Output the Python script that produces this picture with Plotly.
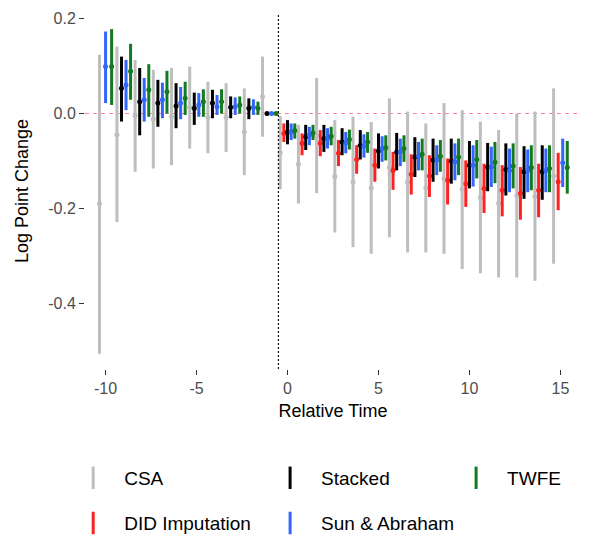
import plotly.graph_objects as go

# ---------------- data ----------------
rel_time = list(range(-10, 16))

estimators = ["CSA", "DID Imputation", "Stacked", "Sun & Abraham", "TWFE"]
colors = ["#bebebe", "#ff2020", "#000000", "#3366ff", "#127a1f"]

# CSA
csa_est = [-0.190, -0.045, -0.005, -0.012, -0.007, 0.013, -0.008, -0.008, -0.039, 0.036,
           -0.083, -0.107, -0.047, -0.133, -0.145, -0.157, -0.114, -0.145, -0.157, -0.137,
           -0.160, -0.177, -0.190, -0.173, -0.175, -0.132]
csa_lo = [-0.507, -0.229, -0.123, -0.116, -0.109, -0.074, -0.084, -0.081, -0.130, -0.049,
          -0.160, -0.190, -0.168, -0.251, -0.282, -0.296, -0.261, -0.293, -0.293, -0.296,
          -0.328, -0.337, -0.346, -0.346, -0.353, -0.317]
csa_hi = [0.124, 0.141, 0.113, 0.092, 0.096, 0.099, 0.067, 0.064, 0.053, 0.120,
          -0.005, -0.024, 0.075, -0.014, -0.007, -0.018, 0.032, 0.004, -0.021, 0.022,
          0.007, -0.017, -0.035, 0.000, 0.004, 0.053]

# DID Imputation (post-period only)
did_est = [None] * 10 + [-0.042, -0.063, -0.063, -0.084, -0.097, -0.109, -0.120, -0.128,
                         -0.132, -0.141, -0.148, -0.158, -0.162, -0.168, -0.162, -0.144]
did_lo = [None] * 10 + [-0.060, -0.088, -0.090, -0.111, -0.127, -0.144, -0.161, -0.171,
                        -0.176, -0.192, -0.197, -0.210, -0.217, -0.224, -0.219, -0.204]
did_hi = [None] * 10 + [-0.021, -0.042, -0.035, -0.056, -0.067, -0.074, -0.081, -0.086,
                        -0.088, -0.095, -0.099, -0.106, -0.109, -0.113, -0.106, -0.083]

# Stacked
stk_est = [None, 0.053, 0.025, 0.022, 0.016, 0.011, 0.022, 0.013, 0.011, 0.0,
           -0.039, -0.049, -0.053, -0.060, -0.067, -0.079, -0.081, -0.092, -0.098, -0.100,
           -0.109, -0.113, -0.118, -0.123, -0.123, None]
stk_lo = [None, -0.017, -0.046, -0.028, -0.031, -0.024, -0.010, -0.010, -0.012, 0.0,
          -0.065, -0.077, -0.081, -0.088, -0.097, -0.116, -0.120, -0.134, -0.144, -0.148,
          -0.158, -0.164, -0.173, -0.180, -0.182, None]
stk_hi = [None, 0.120, 0.096, 0.071, 0.064, 0.044, 0.050, 0.036, 0.032, 0.0,
          -0.014, -0.024, -0.024, -0.031, -0.035, -0.042, -0.041, -0.050, -0.053, -0.053,
          -0.058, -0.062, -0.063, -0.069, -0.067, None]

# Sun & Abraham
sa_est = [0.099, 0.060, 0.029, 0.029, 0.022, 0.018, 0.014, 0.014, 0.013, 0.0,
          -0.039, -0.046, -0.053, -0.062, -0.069, -0.074, -0.081, -0.090, -0.098, -0.102,
          -0.109, -0.113, -0.120, -0.120, -0.120, -0.104]
sa_lo = [0.022, 0.007, -0.017, -0.010, -0.012, -0.007, -0.003, -0.003, -0.003, 0.0,
         -0.056, -0.067, -0.074, -0.084, -0.093, -0.102, -0.111, -0.120, -0.130, -0.141,
         -0.154, -0.155, -0.166, -0.166, -0.166, -0.155]
sa_hi = [0.173, 0.113, 0.075, 0.065, 0.056, 0.043, 0.039, 0.034, 0.030, 0.0,
         -0.021, -0.028, -0.031, -0.039, -0.044, -0.048, -0.053, -0.060, -0.067, -0.063,
         -0.067, -0.070, -0.074, -0.076, -0.074, -0.053]

# TWFE
twfe_est = [0.099, 0.089, 0.050, 0.046, 0.032, 0.025, 0.025, 0.018, 0.011, 0.0,
            -0.036, -0.041, -0.048, -0.055, -0.060, -0.072, -0.074, -0.086, -0.090, -0.092,
            -0.097, -0.103, -0.111, -0.114, -0.116, -0.114]
twfe_lo = [0.018, 0.029, -0.007, 0.000, -0.003, -0.007, 0.000, 0.000, -0.003, 0.0,
           -0.053, -0.056, -0.067, -0.076, -0.083, -0.099, -0.102, -0.120, -0.123, -0.130,
           -0.137, -0.147, -0.158, -0.162, -0.166, -0.169]
twfe_hi = [0.178, 0.147, 0.104, 0.090, 0.067, 0.051, 0.051, 0.036, 0.025, 0.0,
           -0.021, -0.024, -0.028, -0.034, -0.039, -0.046, -0.046, -0.053, -0.056, -0.053,
           -0.056, -0.060, -0.063, -0.067, -0.067, -0.058]

x_ticks = [-10, -5, 0, 5, 10, 15]
x_labels = ["-10", "-5", "0", "5", "10", "15"]
y_ticks = [0.2, 0.0, -0.2, -0.4]
y_labels = ["0.2", "0.0", "-0.2", "-0.4"]

series = [
    (csa_est, csa_lo, csa_hi),
    (did_est, did_lo, did_hi),
    (stk_est, stk_lo, stk_hi),
    (sa_est, sa_lo, sa_hi),
    (twfe_est, twfe_lo, twfe_hi),
]

# ---------------- dodge (like ggplot position_dodge(width = 1)) ----------------
dodge_width = 1.0
offsets = [[None] * len(rel_time) for _ in estimators]
for j, t in enumerate(rel_time):
    present = [k for k in range(len(estimators)) if series[k][0][j] is not None]
    n = len(present)
    for i, k in enumerate(present):
        offsets[k][j] = dodge_width * ((i + 0.5) / n - 0.5)

fig = go.Figure()

for k, name in enumerate(estimators):
    est, lo, hi = series[k]
    xs, ys, up, dn = [], [], [], []
    for j, t in enumerate(rel_time):
        if est[j] is None:
            continue
        xs.append(t + offsets[k][j])
        ys.append(est[j])
        up.append(hi[j] - est[j])
        dn.append(est[j] - lo[j])
    fig.add_trace(go.Scatter(
        x=xs, y=ys, mode="markers", name=name, showlegend=False,
        marker=dict(size=5, color=colors[k]),
        error_y=dict(type="data", symmetric=False, array=up, arrayminus=dn,
                     thickness=3, width=0, color=colors[k]),
        hoverinfo="skip",
    ))

# legend entries, laid out in 3 columns x 2 rows like the reference
legend_pos = {
    "CSA": ("legend", -0.046, -0.306),
    "Stacked": ("legend2", 0.351, -0.306),
    "TWFE": ("legend3", 0.726, -0.306),
    "DID Imputation": ("legend4", -0.046, -0.433),
    "Sun & Abraham": ("legend5", 0.351, -0.433),
}
for k, name in enumerate(estimators):
    lg = legend_pos[name][0]
    fig.add_trace(go.Scatter(
        x=[None], y=[None], mode="markers", name=name, legend=lg,
        marker=dict(symbol="line-ns", size=16, color=colors[k],
                    line=dict(width=3, color=colors[k])),
    ))

legend_layout = {}
for name, (lg, lx, ly) in legend_pos.items():
    legend_layout[lg] = dict(
        x=lx, y=ly, xanchor="left", yanchor="middle", orientation="v",
        itemwidth=52, bgcolor="rgba(0,0,0,0)",
        font=dict(size=19, color="black", family="Liberation Sans, Arial, sans-serif"),
    )

fig.update_layout(
    width=592, height=543,
    margin=dict(l=85, r=11, t=13, b=174, autoexpand=False),
    paper_bgcolor="white", plot_bgcolor="white",
    font=dict(family="Liberation Sans, Arial, sans-serif", size=16, color="black"),
    xaxis=dict(
        range=[-11.13, 16.13], tickvals=x_ticks, ticktext=x_labels,
        ticks="outside", ticklen=5, tickwidth=1, tickcolor="#333333",
        showgrid=False, zeroline=False, showline=False,
        tickfont=dict(size=16, color="#4d4d4d"),
        title=dict(text="Relative Time", font=dict(size=18, color="black"), standoff=8),
    ),
    yaxis=dict(
        range=[-0.539, 0.212], tickvals=y_ticks, ticktext=y_labels,
        ticks="outside", ticklen=5, tickwidth=1, tickcolor="#333333",
        showgrid=False, zeroline=False, showline=False,
        tickfont=dict(size=16, color="#4d4d4d"),
        title=dict(text="Log Point Change", font=dict(size=18, color="black"), standoff=14),
    ),
    shapes=[
        dict(type="line", xref="paper", x0=0, x1=1, yref="y", y0=0, y1=0,
             line=dict(color="#ff7f9a", width=1, dash="4px,4px"), layer="below"),
        dict(type="line", xref="x", x0=-0.5, x1=-0.5, yref="paper", y0=0, y1=1,
             line=dict(color="#111111", width=1.2, dash="2px,2px"), layer="above"),
    ],
    **legend_layout,
)

fig.write_html(
    "out.html",
    config={"displayModeBar": False},
    post_script="document.body.style.margin='0px'; document.body.style.overflow='hidden';",
)
